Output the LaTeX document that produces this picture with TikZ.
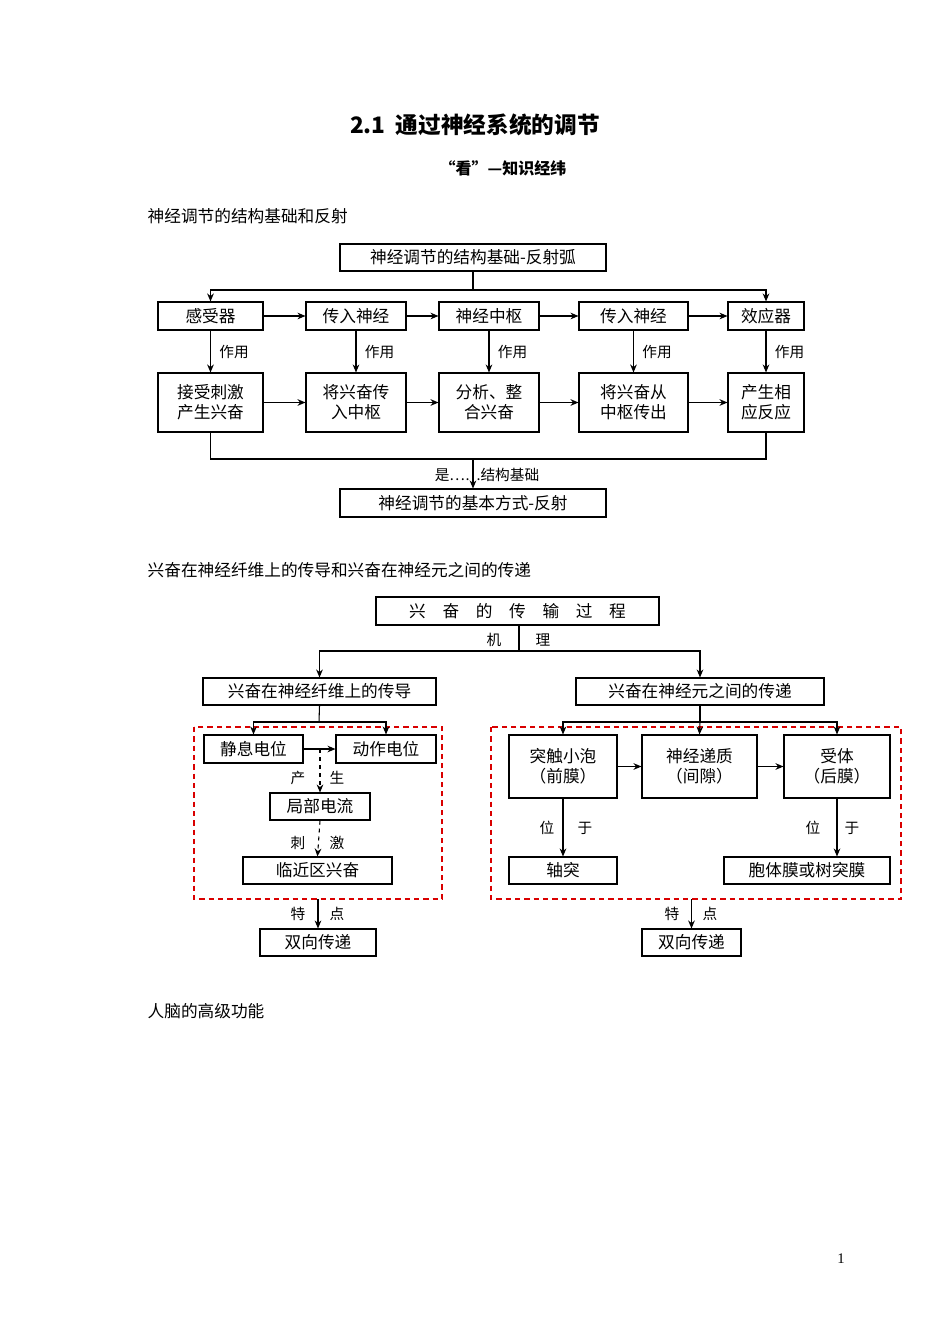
\documentclass[tikz,border=0pt]{standalone}
\usepackage{fontspec}
\setmainfont{Liberation Serif}
\newfontfamily\cjk{Noto Sans CJK SC}
\usetikzlibrary{arrows.meta}
\begin{document}
\begin{tikzpicture}[x=0.75pt,y=-0.75pt,
  bx/.style={draw,thick,inner sep=0pt,font=\cjk\fontsize{12.5}{15}\selectfont,align=center},
  ar/.style={-{Stealth[length=6pt,width=5pt]},thick},
  ln/.style={thick},
  lb/.style={font=\cjk\fontsize{11}{13}\selectfont},
  red/.style={draw=red!85!black,thick,dash pattern=on 4pt off 3pt}]
\useasboundingbox (0,0) rectangle (950,1342);
\node[font=\cjk\bfseries\fontsize{17}{20}\selectfont] (title) at (475,125) {2.1\ \ 通过神经系统的调节};
\node[font=\cjk\bfseries\fontsize{12}{14}\selectfont] (sub) at (503,168) {“看”—知识经纬};
\node[font=\cjk\fontsize{12.5}{15}\selectfont,anchor=west] (h1) at (143,216) {神经调节的结构基础和反射};
\node[font=\cjk\fontsize{12.5}{15}\selectfont,anchor=west] (h2) at (143,570) {兴奋在神经纤维上的传导和兴奋在神经元之间的传递};
\node[font=\cjk\fontsize{12.5}{15}\selectfont,anchor=west] (h3) at (143,1011) {人脑的高级功能};
\node[font=\fontsize{11}{13}\selectfont] (pg) at (841,1259) {1};
% diagram 1
\node[bx,minimum width=266*0.75pt,minimum height=27*0.75pt] (top) at (473,257.5) {神经调节的结构基础-反射弧};
\foreach \n/\x/\w/\t in {a/210.5/105/感受器,b/356/100/传入神经,c/489/100/神经中枢,d/633.5/109/传入神经,e/766/76/效应器}{
  \node[bx,minimum width=\w*0.75pt,minimum height=28*0.75pt] (\n1) at (\x,316) {\t};}
\foreach \n/\x/\w/\t in {a/210.5/105/接受刺激\\产生兴奋,b/356/100/将兴奋传\\入中枢,c/489/100/分析、整\\合兴奋,d/633.5/109/将兴奋从\\中枢传出,e/766/76/产生相\\应反应}{
  \node[bx,minimum width=\w*0.75pt,minimum height=59*0.75pt] (\n2) at (\x,402.5) {\t};}
\coordinate (tj) at (473,290);
\draw[ln] (top.south) -- (tj);
\draw[ar] (tj) -| (a1.north);
\draw[ar] (tj) -| (e1.north);
\foreach \n in {a,b,c,d,e}{\draw[ar] (\n1) -- node[lb,right,xshift=3pt]{作用} (\n2);}
\draw[ar] (a1) -- (b1); \draw[ar] (b1) -- (c1); \draw[ar] (c1) -- (d1); \draw[ar] (d1) -- (e1);
\draw[ar] (a2) -- (b2); \draw[ar] (b2) -- (c2); \draw[ar] (c2) -- (d2); \draw[ar] (d2) -- (e2);
\node[bx,minimum width=266*0.75pt,minimum height=28*0.75pt] (bot) at (473,503) {神经调节的基本方式-反射};
\coordinate (bj) at (473,459);
\draw[ln] (a2.south) |- (bj) -| (e2.south);
\draw[ar] (bj) -- (bot.north);
\node[lb] (l1) at (487,475) {是……结构基础};
% diagram 2
\node[bx,minimum width=283*0.75pt,minimum height=28*0.75pt] (t2) at (517.5,611) {兴\quad 奋\quad 的\quad 传\quad 输\quad 过\quad 程};
\coordinate (j2) at (519,651);
\draw[ln] (519,625) -- (j2);
\node[lb] at (494,640) {机}; \node[lb] at (543,640) {理};
\node[bx,minimum width=233*0.75pt,minimum height=27*0.75pt] (L) at (319.5,691.5) {兴奋在神经纤维上的传导};
\node[bx,minimum width=248*0.75pt,minimum height=27*0.75pt] (R) at (700,691.5) {兴奋在神经元之间的传递};
\draw[ar] (j2) -| (L.north);
\draw[ar] (j2) -| (R.north);
\draw[red] (194,727) rectangle (442,899);
\draw[red] (491,727) rectangle (901,899);
\node[bx,minimum width=99*0.75pt,minimum height=28*0.75pt] (jx) at (253.5,749) {静息电位};
\node[bx,minimum width=100*0.75pt,minimum height=28*0.75pt] (dz) at (386,749) {动作电位};
\coordinate (lj) at (319,722);
\draw[ln] (L.south) -- (lj);
\draw[ar] (lj) -| (jx.north);
\draw[ar] (lj) -| (dz.north);
\draw[ar] (jx) -- (dz);
\node[bx,minimum width=100*0.75pt,minimum height=27*0.75pt] (jb) at (320,806.5) {局部电流};
\node[bx,minimum width=149*0.75pt,minimum height=27*0.75pt] (lq) at (317.5,870.5) {临近区兴奋};
\draw[ar,dashed] (320,749) -- (jb.north);
\node[lb] at (298,778) {产}; \node[lb] at (337,778) {生};
\draw[ar,dashed] (jb.south) -- (lq.north);
\node[lb] at (298,843) {刺}; \node[lb] at (337,843) {激};
\node[bx,minimum width=116*0.75pt,minimum height=27*0.75pt] (s1) at (318,942.5) {双向传递};
\draw[ar] (318,899) -- (s1.north);
\node[lb] at (298,914) {特}; \node[lb] at (337,914) {点};
\node[bx,minimum width=108*0.75pt,minimum height=63*0.75pt] (tc) at (563,766.5) {突触小泡\\（前膜）};
\node[bx,minimum width=115*0.75pt,minimum height=63*0.75pt] (dt) at (699.5,766.5) {神经递质\\（间隙）};
\node[bx,minimum width=106*0.75pt,minimum height=63*0.75pt] (st) at (837,766.5) {受体\\（后膜）};
\coordinate (rj) at (700,722);
\draw[ln] (R.south) -- (rj);
\draw[ar] (rj) -| (tc.north);
\draw[ar] (rj) -- (dt.north);
\draw[ar] (rj) -| (st.north);
\draw[ar] (tc) -- (dt); \draw[ar] (dt) -- (st);
\node[bx,minimum width=108*0.75pt,minimum height=27*0.75pt] (zt) at (563,870.5) {轴突};
\node[bx,minimum width=166*0.75pt,minimum height=27*0.75pt] (bt) at (807,870.5) {胞体膜或树突膜};
\draw[ar] (tc.south) -- (zt.north);
\node[lb] at (547,828) {位}; \node[lb] at (585,828) {于};
\draw[ar] (st.south) -- (st.south |- bt.north);
\node[lb] at (813,828) {位}; \node[lb] at (852,828) {于};
\node[bx,minimum width=99*0.75pt,minimum height=27*0.75pt] (s2) at (691.5,942.5) {双向传递};
\draw[ar] (691.5,899) -- (s2.north);
\node[lb] at (672,914) {特}; \node[lb] at (710,914) {点};
\end{tikzpicture}
\end{document}
